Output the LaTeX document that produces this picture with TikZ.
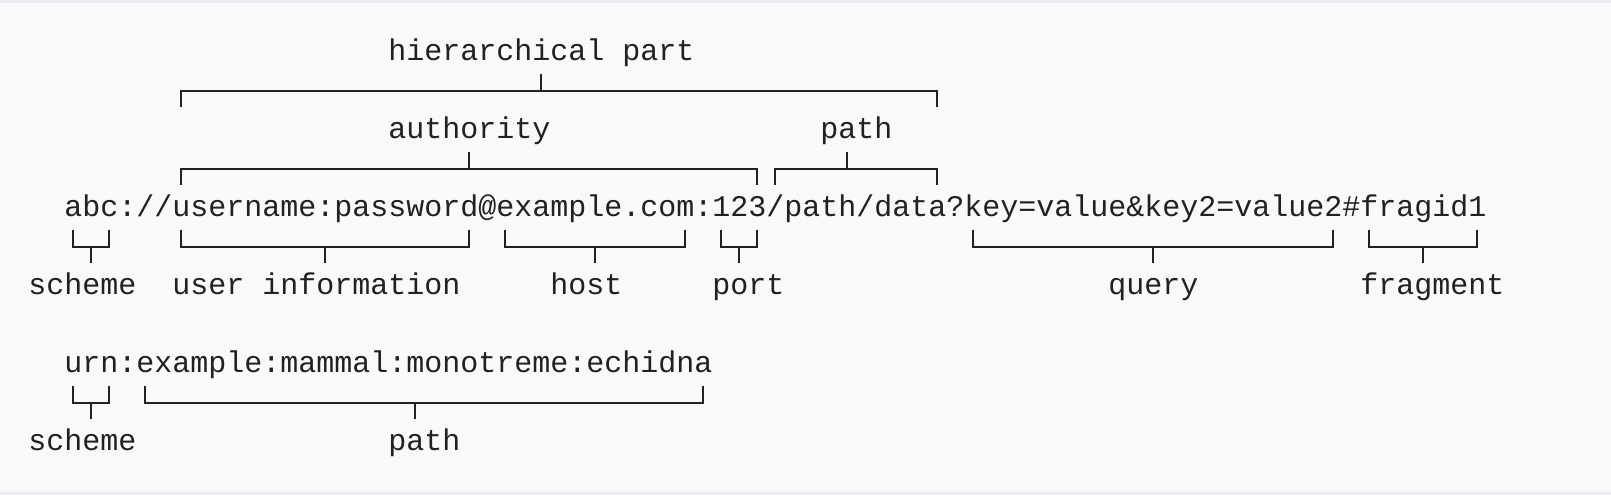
\documentclass[tikz,border=0pt]{standalone}
\usepackage{fontspec}
\setmonofont{Liberation Mono}
\usepackage{xcolor}
\definecolor{wtext}{HTML}{202122}
\definecolor{wback}{HTML}{F8F9FA}
\definecolor{wrule}{HTML}{EAECF0}

% bracket over a span: #1 left col, #2 right col, #3 tee col, #4 row
\newcommand{\uriup}[4]{%
  \draw[bracket] (#1+.5,#4+.42) -- (#1+.5,#4) -- (#2+.5,#4) -- (#2+.5,#4+.42)
                 (#3+.5,#4) -- (#3+.5,#4-.42);}
% bracket under a span
\newcommand{\uridown}[4]{%
  \draw[bracket] (#1+.5,#4-.42) -- (#1+.5,#4) -- (#2+.5,#4) -- (#2+.5,#4-.42)
                 (#3+.5,#4) -- (#3+.5,#4+.42);}

\begin{document}
\begin{tikzpicture}[x=13.5pt,y=-29.25pt,color=wtext]
  \tikzset{uri text/.style={anchor=base west,inner sep=0pt,font=\ttfamily\fontsize{22.5pt}{29.25pt}\selectfont},
           bracket/.style={line width=1.5pt,line join=miter}}

  \useasboundingbox (-1.5556,-1.3256) rectangle (87.944,11.495);
  \fill[white] (-1.5556,-1.3256) rectangle (87.944,11.495);
  \fill[wrule] (-1.5556,-1.3256) rectangle (87.944,11.354);
  \fill[wback] (-1.5556,-1.2564) rectangle (87.944,11.290);

  % first example
  \node[uri text] (hier) at (20,0.213) {hierarchical part};
  \uriup{8}{50}{28}{1}
  \node[uri text] (auth) at (20,2.213) {authority};
  \node[uri text] (path) at (44,2.213) {path};
  \uriup{8}{40}{24}{3}
  \uriup{41}{50}{45}{3}
  \node[uri text] (uri) at (2,4.213) {abc://username:password@example.com:123/path/data?key=value\&key2=value2\#fragid1};
  \uridown{2}{4}{3}{5}
  \uridown{8}{24}{16}{5}
  \uridown{26}{36}{31}{5}
  \uridown{38}{40}{39}{5}
  \uridown{52}{72}{62}{5}
  \uridown{74}{80}{77}{5}
  \node[uri text] (scheme) at (0,6.213) {scheme};
  \node[uri text] (user) at (8,6.213) {user information};
  \node[uri text] (host) at (29,6.213) {host};
  \node[uri text] (port) at (38,6.213) {port};
  \node[uri text] (query) at (60,6.213) {query};
  \node[uri text] (frag) at (74,6.213) {fragment};

  % second example
  \node[uri text] (urn) at (2,8.213) {urn:example:mammal:monotreme:echidna};
  \uridown{2}{4}{3}{9}
  \uridown{6}{37}{21}{9}
  \node[uri text] (urnscheme) at (0,10.213) {scheme};
  \node[uri text] (urnpath) at (20,10.213) {path};
\end{tikzpicture}
\end{document}
